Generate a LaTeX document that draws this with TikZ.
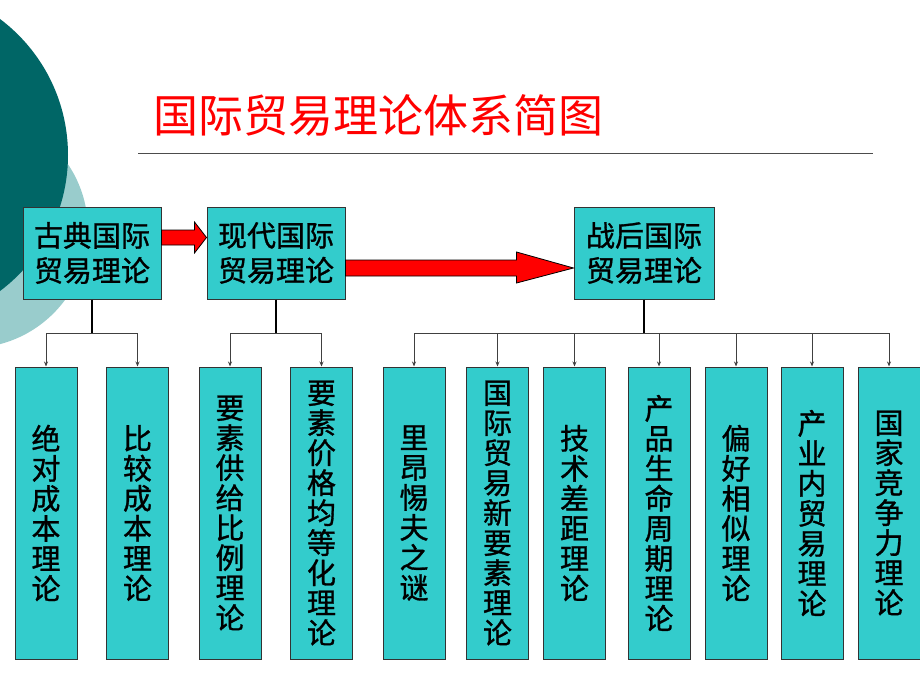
\documentclass[tikz,border=0pt]{standalone}
\usepackage{fontspec}
\newfontfamily\cjk{Noto Sans CJK SC}
\newfontfamily\cjkb[FakeBold=1]{Noto Sans CJK SC}
\usetikzlibrary{arrows.meta,calc}
\definecolor{deepteal}{HTML}{006666}
\definecolor{paleteal}{HTML}{99CCCC}
\definecolor{boxcyan}{HTML}{33CCCC}

\begin{document}
\begin{tikzpicture}[x=1pt,y=-1pt,
	era/.style={draw=black!80,fill=boxcyan,line width=1pt,minimum width=138pt,minimum height=92pt,align=center,inner sep=0pt,font=\cjkb\fontsize{29}{35}\selectfont},
	theory/.style={draw=black!80,fill=boxcyan,line width=1pt,minimum width=62pt,minimum height=292pt,align=center,inner sep=0pt,font=\cjkb\fontsize{29}{30}\selectfont},
	bigarrow/.style={draw=black,fill=red,line width=0.8pt},
	trunk/.style={line width=1.5pt},
	branch/.style={draw=black!75,line width=0.8pt,-{Stealth[length=5pt,width=4pt]}}]
	\useasboundingbox (0,0) rectangle (920,690);
	\clip (0,0) rectangle (920,690);
	\fill[paleteal] (-30,230) circle (118);
	\fill[deepteal] (-102,155) circle (170);
	\node[inner sep=0pt,text=red,font=\cjk\fontsize{45}{45}\selectfont] (title) at (378,115) {国际贸易理论体系简图};
	\draw[black!70,line width=0.8pt] (138,153) -- (873,153);
	\node[era] (classic) at (92,253) {古典国际\\贸易理论};
	\node[era] (modern) at (276,253) {现代国际\\贸易理论};
	\node[era,minimum width=140pt] (postwar) at (644,253) {战后国际\\贸易理论};
	\draw[bigarrow] ($(classic.east)+(0,-23)$) -- ($(modern.west)+(-12,-23)$) -- ($(modern.west)+(-12,-31)$) -- ($(modern.west)+(0,-15.5)$) -- ($(modern.west)+(-12,0)$) -- ($(modern.west)+(-12,-8)$) -- ($(classic.east)+(0,-8)$) -- cycle;
	\draw[bigarrow] ($(modern.east)+(0,7)$) -- ($(postwar.west)+(-57,7)$) -- ($(postwar.west)+(-57,-1)$) -- ($(postwar.west)+(0,15)$) -- ($(postwar.west)+(-57,30)$) -- ($(postwar.west)+(-57,23)$) -- ($(modern.east)+(0,23)$) -- cycle;
	\foreach \x/\name/\label in {46/absolute/{绝\\对\\成\\本\\理\\论},137.5/comparative/{比\\较\\成\\本\\理\\论},230/endowment/{要\\素\\供\\给\\比\\例\\理\\论},321.5/equalization/{要\\素\\价\\格\\均\\等\\化\\理\\论},414/leontief/{里\\昂\\惕\\夫\\之\\谜},497.5/newfactor/{国\\际\\贸\\易\\新\\要\\素\\理\\论},574.5/techgap/{技\\术\\差\\距\\理\\论},659/lifecycle/{产\\品\\生\\命\\周\\期\\理\\论},736/demand/{偏\\好\\相\\似\\理\\论},812/intraind/{产\\业\\内\\贸\\易\\理\\论},889/competitive/{国\\家\\竞\\争\\力\\理\\论}}
		\node[theory] (\name) at (\x,513) {\label};
	\coordinate (cj) at ($(classic.south)+(0,34)$);
	\coordinate (mj) at ($(modern.south)+(0,34)$);
	\coordinate (pj) at ($(postwar.south)+(0,34)$);
	\draw[trunk] (classic.south) -- (cj);
	\draw[trunk] (modern.south) -- (mj);
	\draw[trunk] (postwar.south) -- (pj);
	\foreach \t in {absolute,comparative} \draw[branch] (cj) -| (\t.north);
	\foreach \t in {endowment,equalization} \draw[branch] (mj) -| (\t.north);
	\foreach \t in {leontief,newfactor,techgap,lifecycle,demand,intraind,competitive} \draw[branch] (pj) -| (\t.north);
\end{tikzpicture}
\end{document}
